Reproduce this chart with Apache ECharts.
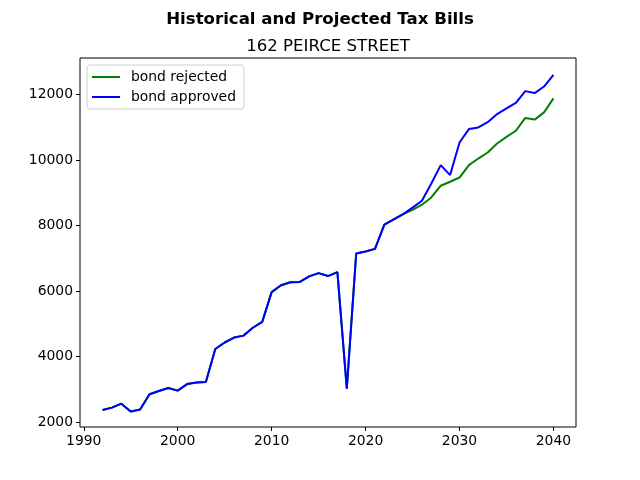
<!DOCTYPE html>
<html>
<head>
<meta charset="utf-8">
<script src="https://cdn.jsdelivr.net/npm/echarts@6/dist/echarts.min.js"></script>
<style>
  html, body { margin: 0; padding: 0; background: #fff; }
  #chart { width: 640px; height: 480px; }
</style>
</head>
<body>
<div id="chart"></div>
<script>
// --- Data ---
const years = [
    1992, 1993, 1994, 1995, 1996, 1997, 1998, 1999, 2000, 2001,
    2002, 2003, 2004, 2005, 2006, 2007, 2008, 2009, 2010, 2011,
    2012, 2013, 2014, 2015, 2016, 2017, 2018, 2019, 2020, 2021,
    2022, 2023, 2024, 2025, 2026, 2027, 2028, 2029, 2030, 2031,
    2032, 2033, 2034, 2035, 2036, 2037, 2038, 2039, 2040
];

// bond rejected (green)
const billsRejected = [
    2370, 2440, 2560, 2320, 2380, 2850, 2950, 3040, 2960, 3160,
    3210, 3220, 4230, 4430, 4580, 4640, 4880, 5060, 5970, 6180,
    6270, 6280, 6450, 6550, 6460, 6580, 3020, 7150, 7210, 7290,
    8030, 8190, 8350, 8480, 8640, 8860, 9220, 9340, 9470, 9850,
    10050, 10235, 10510, 10710, 10900, 11290, 11240, 11460, 11890
];

// bond approved (blue)
const billsApproved = [
    2370, 2440, 2560, 2320, 2380, 2850, 2950, 3040, 2960, 3160,
    3210, 3220, 4230, 4430, 4580, 4640, 4880, 5060, 5970, 6180,
    6270, 6280, 6450, 6550, 6460, 6580, 3020, 7150, 7210, 7290,
    8030, 8190, 8350, 8550, 8760, 9290, 9850, 9545, 10540, 10950,
    11000, 11160, 11410, 11580, 11750, 12110, 12050, 12250, 12610
];

const xTicks = [1990, 2000, 2010, 2020, 2030, 2040];
const yTicks = [2000, 4000, 6000, 8000, 10000, 12000];

const font = 'DejaVu Sans';

const chart = echarts.init(document.getElementById('chart'));

const pairs = (ys) => years.map((yr, i) => [yr, ys[i]]);

const option = {
    animation: false,
    backgroundColor: '#fff',
    title: [
        {
            text: 'Historical and Projected Tax Bills',
            left: 315, top: 6, textAlign: 'center',
            textStyle: { fontFamily: font, fontSize: 16.6, fontWeight: 'bold', color: '#000' }
        },
        {
            text: '162 PEIRCE STREET',
            left: 323, top: 33, textAlign: 'center',
            textStyle: { fontFamily: font, fontSize: 16.6, fontWeight: 'normal', color: '#000' }
        }
    ],
    legend: {
        orient: 'vertical',
        left: 87, top: 65,
        padding: [5, 8, 5, 5],
        itemGap: 6,
        itemWidth: 28, itemHeight: 2,
        icon: 'rect',
        borderColor: '#d0d0d0', borderWidth: 1, borderRadius: 3,
        backgroundColor: 'rgba(255,255,255,0.8)',
        textStyle: { fontFamily: font, fontSize: 13.9, color: '#000', padding: [0, 0, 0, 6] },
        data: ['bond rejected', 'bond approved']
    },
    grid: {
        left: 80, right: 64, top: 58, bottom: 53,
        show: true, borderColor: '#000', borderWidth: 1,
        containLabel: false
    },
    xAxis: {
        type: 'value',
        min: 1989.6, max: 2042.4,
        axisLine: { show: false },
        splitLine: { show: false },
        axisTick: { show: true, length: 4, inside: false, customValues: xTicks, lineStyle: { color: '#000' } },
        axisLabel: {
            customValues: xTicks, margin: 7,
            fontFamily: font, fontSize: 13.9, color: '#000',
            formatter: (v) => String(v)
        }
    },
    yAxis: {
        type: 'value',
        min: 1848, max: 13122,
        axisLine: { show: false },
        splitLine: { show: false },
        axisTick: { show: true, length: 4, inside: false, customValues: yTicks, lineStyle: { color: '#000' } },
        axisLabel: {
            customValues: yTicks, margin: 7,
            fontFamily: font, fontSize: 13.9, color: '#000',
            formatter: (v) => String(v)
        }
    },
    series: [
        {
            name: 'bond rejected',
            type: 'line',
            data: pairs(billsRejected),
            showSymbol: false,
            itemStyle: { color: '#008000' },
            lineStyle: { color: '#008000', width: 2 }
        },
        {
            name: 'bond approved',
            type: 'line',
            data: pairs(billsApproved),
            showSymbol: false,
            itemStyle: { color: '#0000ff' },
            lineStyle: { color: '#0000ff', width: 2 }
        }
    ]
};

chart.setOption(option);
</script>
</body>
</html>
